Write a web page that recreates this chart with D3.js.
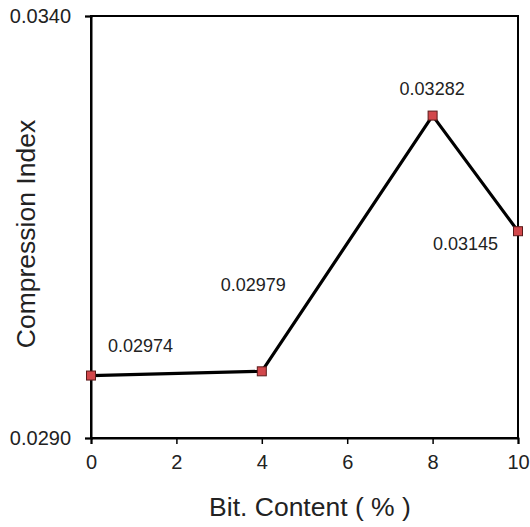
<!DOCTYPE html>
<html>
<head>
<meta charset="utf-8">
<script src="https://cdn.jsdelivr.net/npm/d3@7"></script>
<style>
  body { margin: 0; background: #fff; }
  svg text { font-family: "Liberation Sans", Arial, sans-serif; fill: #222; }
</style>
</head>
<body>
<div id="chart"></div>
<script>
// data
const bitContent = [0, 4, 8, 10];
const compIndex = [0.02974, 0.02979, 0.03282, 0.03145];
const pointLabels = ['0.02974', '0.02979', '0.03282', '0.03145'];
const xTicks = [0, 2, 4, 6, 8, 10];
const yTicks = [0.0290, 0.0340];

const width = 530, height = 527;
const margin = { top: 16, right: 12, bottom: 89, left: 91 };

const svg = d3.select('#chart').append('svg')
  .attr('width', width)
  .attr('height', height);

const x = d3.scaleLinear().domain([0, 10]).range([margin.left, width - margin.right]);
const y = d3.scaleLinear().domain([0.029, 0.034]).range([height - margin.bottom, margin.top]);

// frame
svg.append('rect')
  .attr('x', x(0)).attr('y', y(0.034))
  .attr('width', x(10) - x(0)).attr('height', y(0.029) - y(0.034))
  .attr('fill', 'none').attr('stroke', '#000').attr('stroke-width', 2);

// axes
const xAxis = svg.append('g')
  .attr('transform', `translate(0,${y(0.029)})`)
  .call(d3.axisBottom(x).tickValues(xTicks).tickSize(6).tickPadding(11).tickFormat(d3.format('d')));
const yAxis = svg.append('g')
  .attr('transform', `translate(${x(0)},0)`)
  .call(d3.axisLeft(y).tickValues(yTicks).tickSize(6).tickPadding(14).tickFormat(d3.format('.4f')));

[xAxis, yAxis].forEach(g => {
  g.select('.domain').attr('stroke', '#000').attr('stroke-width', 2);
  g.selectAll('.tick line').attr('stroke', '#000').attr('stroke-width', 1.5);
  g.selectAll('.tick text').style('font-size', '20px').attr('fill', '#222');
});
// y ticks cross the axis slightly
yAxis.selectAll('.tick line').attr('x2', -6).attr('x1', 2);

// line
const line = d3.line()
  .x((d, i) => x(bitContent[i]))
  .y(d => y(d));

svg.append('path')
  .datum(compIndex)
  .attr('d', line)
  .attr('fill', 'none')
  .attr('stroke', '#000')
  .attr('stroke-width', 3.2)
  .attr('stroke-linejoin', 'round');

// markers
svg.append('g').selectAll('rect')
  .data(compIndex)
  .join('rect')
  .attr('x', (d, i) => x(bitContent[i]) - 4.5)
  .attr('y', d => y(d) - 4.5)
  .attr('width', 9).attr('height', 9)
  .attr('fill', '#d2474b')
  .attr('stroke', '#5a1a1a')
  .attr('stroke-width', 1);

// point labels
const labelOffsets = [[17, -30], [-41, -87], [-33, -27], [-85, 12]];
svg.append('g').selectAll('text')
  .data(compIndex)
  .join('text')
  .attr('x', (d, i) => x(bitContent[i]) + labelOffsets[i][0])
  .attr('y', (d, i) => y(d) + labelOffsets[i][1])
  .attr('dy', '0.35em')
  .style('font-size', '18px')
  .text((d, i) => pointLabels[i]);

// axis titles
svg.append('text')
  .attr('x', 310)
  .attr('y', 507)
  .attr('text-anchor', 'middle')
  .attr('dy', '0.35em')
  .style('font-size', '26.5px')
  .text('Bit. Content ( % )');

svg.append('text')
  .attr('transform', `translate(26,234) rotate(-90)`)
  .attr('text-anchor', 'middle')
  .attr('dy', '0.35em')
  .style('font-size', '26.5px')
  .text('Compression Index');
</script>
</body>
</html>
